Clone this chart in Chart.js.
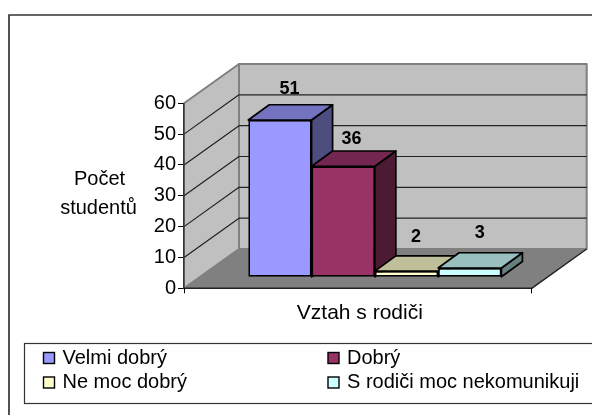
<!DOCTYPE html>
<html><head><meta charset="utf-8">
<style>html,body{margin:0;padding:0;background:#fff}canvas{display:block}</style>
<script src="https://cdn.jsdelivr.net/npm/chart.js@4"></script></head>
<body><canvas id="c" width="592" height="415" style="width:592px;height:415px"></canvas>
<script>
const categories = ['Vztah s rodiči'];
const seriesNames = ['Velmi dobrý', 'Dobrý', 'Ne moc dobrý', 'S rodiči moc nekomunikuji'];
const seriesValues = [51, 36, 2, 3];
const seriesFront = ['#9999FF', '#993366', '#FFFFCC', '#CCFFFF'];
const seriesTop = ['#7373BF', '#732650', '#BFBF99', '#99BFBF'];
const seriesSide = ['#4D4D80', '#4D1A33', '#808066', '#668080'];
const yTicks = [0, 10, 20, 30, 40, 50, 60];
const yTitleLines = ['Počet', 'studentů'];

const FONT = '"Liberation Sans", Arial, sans-serif';
const FS = 20;
const WALL = {dx: 55, dy: -39.3};      // full floor depth
const BAR_SHIFT = {dx: 17, dy: -11};   // where the bars stand on the floor
const BAR_DEPTH = {dx: 21, dy: -15.3};
const LABEL_OFF = [[9.5, -31], [8.3, -27], [9.4, -34.3], [10, -34.6]];

function poly(ctx, pts, fill, stroke, lw) {
  ctx.beginPath();
  pts.forEach((p, i) => i ? ctx.lineTo(p[0], p[1]) : ctx.moveTo(p[0], p[1]));
  ctx.closePath();
  if (fill) { ctx.fillStyle = fill; ctx.fill(); }
  if (stroke) { ctx.strokeStyle = stroke; ctx.lineWidth = lw; ctx.lineJoin = 'round'; ctx.stroke(); }
}

const scene = {
  id: 'scene',
  beforeDraw(chart) {
    const ctx = chart.ctx, {left, right} = chart.chartArea, y = chart.scales.y;
    const y0 = y.getPixelForValue(0), yT = y.getPixelForValue(60);
    const d = WALL;
    ctx.save();
    // outer frame
    ctx.strokeStyle = '#333'; ctx.lineWidth = 1.7;
    ctx.beginPath(); ctx.moveTo(9, 416); ctx.lineTo(9, 15); ctx.lineTo(593, 15); ctx.stroke();
    // floor
    poly(ctx, [[left, y0], [right, y0], [right + d.dx, y0 + d.dy], [left + d.dx, y0 + d.dy]], '#808080');
    // back wall and side wall
    poly(ctx, [[left + d.dx, yT + d.dy], [right + d.dx, yT + d.dy], [right + d.dx, y0 + d.dy], [left + d.dx, y0 + d.dy]], '#C0C0C0', '#808080', 2);
    poly(ctx, [[left, yT], [left + d.dx, yT + d.dy], [left + d.dx, y0 + d.dy], [left, y0]], '#C0C0C0', '#808080', 2);
    // gridlines from the y scale
    ctx.strokeStyle = '#222'; ctx.lineWidth = 1.2;
    yTicks.slice(1, -1).forEach(v => {
      const py = y.getPixelForValue(v);
      ctx.beginPath(); ctx.moveTo(left, py); ctx.lineTo(left + d.dx, py + d.dy); ctx.lineTo(right + d.dx, py + d.dy); ctx.stroke();
    });
    // floor front edges
    ctx.strokeStyle = '#222'; ctx.lineWidth = 1.5;
    ctx.beginPath(); ctx.moveTo(left, y0); ctx.lineTo(right, y0); ctx.lineTo(right + d.dx, y0 + d.dy); ctx.stroke();
    ctx.restore();
  },
  beforeDatasetsDraw(chart) {
    const ctx = chart.ctx;
    ctx.save();
    ctx.translate(BAR_SHIFT.dx, BAR_SHIFT.dy);
    const b = BAR_DEPTH;
    chart.data.datasets.forEach((ds, i) => {
      const el = chart.getDatasetMeta(i).data[0];
      const l = el.x - el.width / 2, r = el.x + el.width / 2, t = el.y, bt = el.base;
      poly(ctx, [[r, t], [r + b.dx, t + b.dy], [r + b.dx, bt + b.dy], [r, bt]], seriesSide[i], '#000', 1.7);
      poly(ctx, [[l, t], [r, t], [r + b.dx, t + b.dy], [l + b.dx, t + b.dy]], seriesTop[i], '#000', 1.7);
    });
  },
  afterDatasetsDraw(chart) {
    const ctx = chart.ctx;
    ctx.restore();
    ctx.save();
    ctx.fillStyle = '#000';
    ctx.font = 'bold 18px ' + FONT;
    ctx.textAlign = 'center'; ctx.textBaseline = 'middle';
    chart.data.datasets.forEach((ds, i) => {
      const el = chart.getDatasetMeta(i).data[0];
      ctx.fillText(String(ds.data[0]), el.x + BAR_SHIFT.dx + LABEL_OFF[i][0], el.y + BAR_SHIFT.dy + LABEL_OFF[i][1]);
    });
    ctx.restore();
  },
  afterDraw(chart) {
    const ctx = chart.ctx;
    ctx.save();
    ctx.fillStyle = '#000';
    ctx.font = FS + 'px ' + FONT;
    ctx.textAlign = 'center'; ctx.textBaseline = 'middle';
    ctx.fillText(yTitleLines[0], 99.5, 179);
    ctx.fillText(yTitleLines[1], 98.5, 208);
    // legend
    ctx.strokeStyle = '#333'; ctx.lineWidth = 1.2;
    ctx.strokeRect(24.5, 343.5, 570, 60);
    const pos = [[43, 358], [327.5, 358], [43, 382.5], [327.5, 382.5]];
    ctx.textAlign = 'left';
    seriesNames.forEach((n, i) => {
      const [x, yy] = pos[i];
      ctx.fillStyle = seriesFront[i];
      ctx.fillRect(x + .5, yy - 5.5, 11, 11);
      ctx.strokeStyle = '#000'; ctx.lineWidth = 1.4;
      ctx.strokeRect(x + .5, yy - 5.5, 11, 11);
      ctx.fillStyle = '#000';
      ctx.fillText(n, x + 19.5, yy);
    });
    ctx.restore();
  }
};

new Chart(document.getElementById('c'), {
  type: 'bar',
  data: {
    labels: categories,
    datasets: seriesNames.map((n, i) => ({
      label: n,
      data: [seriesValues[i]],
      backgroundColor: seriesFront[i],
      borderColor: '#000',
      borderWidth: 1.7,
      borderSkipped: false,
      categoryPercentage: 0.728,
      barPercentage: 1
    }))
  },
  options: {
    responsive: false, animation: false,
    layout: {padding: {left: 154, right: 60.3, top: 103.3, bottom: 86.7}},
    plugins: {legend: {display: false}, tooltip: {enabled: false}, title: {display: false}},
    scales: {
      x: {
        afterFit(s) { s.height = 40; },
        grid: {display: true, drawOnChartArea: false, drawTicks: true, tickLength: 5, tickColor: '#000', lineWidth: 1},
        border: {display: false},
        ticks: {display: true, color: '#000', font: {family: FONT, size: 21}, padding: 7, labelOffset: 2, maxRotation: 0},
      },
      y: {
        position: 'left', min: 0, max: 60,
        afterFit(s) { s.width = 30; },
        afterBuildTicks(s) { s.ticks = yTicks.map(v => ({value: v})); },
        grid: {display: true, drawOnChartArea: false, drawTicks: true, tickLength: 6, tickColor: '#000'},
        border: {display: true, color: '#333', width: 1.5},
        ticks: {color: '#000', font: {family: FONT, size: FS}, padding: 2}
      }
    }
  },
  plugins: [scene]
});
</script></body></html>
